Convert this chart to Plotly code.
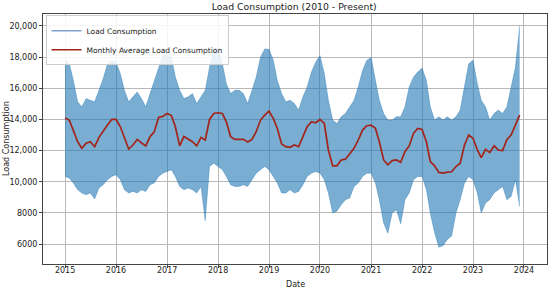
import pandas as pd
import plotly.graph_objects as go

# monthly values, Jan 2015 .. Dec 2023
monthly_avg = [
    14100, 13950, 13300, 12570, 12150, 12470, 12570, 12250, 12850, 13200, 13640, 14000,  # 2015
    14000, 13530, 12900, 12100, 12360, 12720, 12500, 12300, 12900, 13210, 14130, 14200,  # 2016
    14380, 14250, 13530, 12300, 12900, 12720, 12570, 12300, 12850, 12680, 14000, 14380,  # 2017
    14430, 14380, 13850, 12900, 12720, 12720, 12720, 12550, 12720, 13210, 13960, 14280,  # 2018
    14530, 14060, 13430, 12430, 12250, 12210, 12360, 12250, 12900, 13530, 13850, 13790,  # 2019
    14000, 13740, 12040, 11020, 11020, 11400, 11450, 11830, 12150, 12680, 13320, 13600,  # 2020
    13640, 13430, 12570, 11400, 11090, 11360, 11400, 11250, 11940, 12300, 13110, 13430,  # 2021
    13360, 12570, 11300, 11020, 10600, 10550, 10620, 10640, 10980, 11190, 12360, 13000,  # 2022
    12790, 12040, 11550, 12080, 11870, 12300, 12040, 12000, 12720, 13000, 13640, 14280,  # 2023
]

# upper / lower edge of the hourly load band per month
load_max = [
    17800, 17570, 16510, 15130, 14810, 15340, 15230, 15130, 15870, 16620, 17570, 17790,
    17680, 16940, 15870, 15130, 15450, 15770, 15340, 14810, 15660, 16510, 17360, 18100,
    18200, 18000, 16720, 15870, 15340, 15450, 15660, 15020, 15450, 15870, 17360, 18530,
    18600, 17570, 16300, 15660, 15870, 15870, 15660, 15020, 15870, 16720, 18000, 18530,
    18500, 17790, 16510, 15660, 15130, 15230, 15020, 14600, 15450, 16090, 17040, 17680,
    18100, 16940, 15230, 13960, 13740, 14170, 14380, 14810, 15230, 16090, 17150, 17790,
    18000, 16510, 15230, 14380, 13960, 13960, 14170, 14170, 14810, 16090, 16720, 17040,
    17300, 16510, 14810, 13960, 14170, 13960, 14170, 13960, 14170, 14600, 16190, 17570,
    17800, 16300, 15230, 14810, 13960, 14380, 14600, 14380, 14810, 16090, 17360, 20000,
]
load_min = [
    10340, 10230, 9920, 9490, 9280, 9170, 9280, 8900, 9600, 9810, 10130, 10340,
    10450, 10130, 9490, 9280, 9380, 9280, 9490, 9380, 9810, 9920, 10340, 10550,
    10660, 10770, 10340, 9700, 9490, 9600, 9490, 9280, 9700, 7500, 10980, 11190,
    10980, 10770, 10340, 9810, 9700, 9700, 9810, 9700, 10130, 10550, 10770, 10980,
    10770, 10340, 9920, 9280, 9280, 9490, 9280, 9380, 9810, 10340, 10550, 10660,
    10550, 10130, 9280, 8000, 8110, 8530, 8850, 8960, 9700, 9920, 10340, 10550,
    10550, 9920, 8850, 7360, 6700, 8000, 8210, 7300, 8850, 9280, 10130, 10340,
    10340, 9490, 8000, 6720, 5800, 5900, 6300, 6510, 8000, 8850, 9920, 10340,
    10130, 9280, 8000, 8640, 8850, 9280, 9490, 9700, 8850, 9060, 10130, 8400,
]

y_ticks = [6000, 8000, 10000, 12000, 14000, 16000, 18000, 20000]
y_labels = ["6000", "8000", "10,000", "12,000", "14,000", "16,000", "18,000", "20,000"]
x_ticks = [f"{y}-01-01" for y in range(2015, 2025)]
x_labels = [str(y) for y in range(2015, 2025)]

months = pd.date_range("2015-01-01", periods=len(monthly_avg), freq="MS")

blue = "rgba(31,119,180,0.6)"
red = "#a3251a"

fig = go.Figure()
fig.add_trace(go.Scatter(x=months, y=load_min, mode="lines",
                         line=dict(color=blue, width=0.6), showlegend=False,
                         hoverinfo="skip"))
fig.add_trace(go.Scatter(x=months, y=load_max, mode="lines", fill="tonexty",
                         fillcolor=blue, line=dict(color=blue, width=0.6),
                         showlegend=False, hoverinfo="skip"))
# legend entries
fig.add_trace(go.Scatter(x=[None], y=[None], mode="lines", name="Load Consumption",
                         line=dict(color="#7fa0cf", width=1.5)))
fig.add_trace(go.Scatter(x=months, y=monthly_avg, mode="lines",
                         name="Monthly Average Load Consumption",
                         line=dict(color=red, width=1.7)))

axis_common = dict(showgrid=True, gridcolor="#b8b8b8", gridwidth=0.8,
                   showline=True, linecolor="#444444", linewidth=1, mirror=True,
                   ticks="outside", ticklen=3, tickcolor="#444444", automargin=False,
                   tickfont=dict(size=8, color="#222222"), zeroline=False)

fig.update_layout(
    width=550, height=290,
    margin=dict(l=43, r=3, t=14, b=26),
    paper_bgcolor="white", plot_bgcolor="white",
    font=dict(family="DejaVu Sans", color="#222222"),
    title=dict(text="Load Consumption (2010 - Present)", x=0.535, xanchor="center",
               yref="container", y=0.978, yanchor="middle", font=dict(size=9.3)),
    legend=dict(x=0.005, y=0.995, xanchor="left", yanchor="top", traceorder="normal",
                bgcolor="rgba(255,255,255,0.85)", bordercolor="#cccccc", borderwidth=1,
                font=dict(size=7.5), tracegroupgap=0, itemwidth=30),
    xaxis=dict(range=["2014-07-27", "2024-06-14"], tickvals=x_ticks, ticktext=x_labels,
               ticklabelstandoff=-5, **axis_common),
    yaxis=dict(range=[4720, 20770], tickvals=y_ticks, ticktext=y_labels, **axis_common),
    annotations=[
        dict(text="Date", xref="paper", yref="paper", x=0.5, y=-0.055, yanchor="top",
             showarrow=False, font=dict(size=8)),
        dict(text="Load Consumption", xref="paper", yref="paper", x=-0.0734, y=0.5,
             xanchor="center", textangle=-90, showarrow=False, font=dict(size=8)),
    ],
)

fig.write_html("out.html", config={"displayModeBar": False},
               post_script="document.body.style.margin='0';")
